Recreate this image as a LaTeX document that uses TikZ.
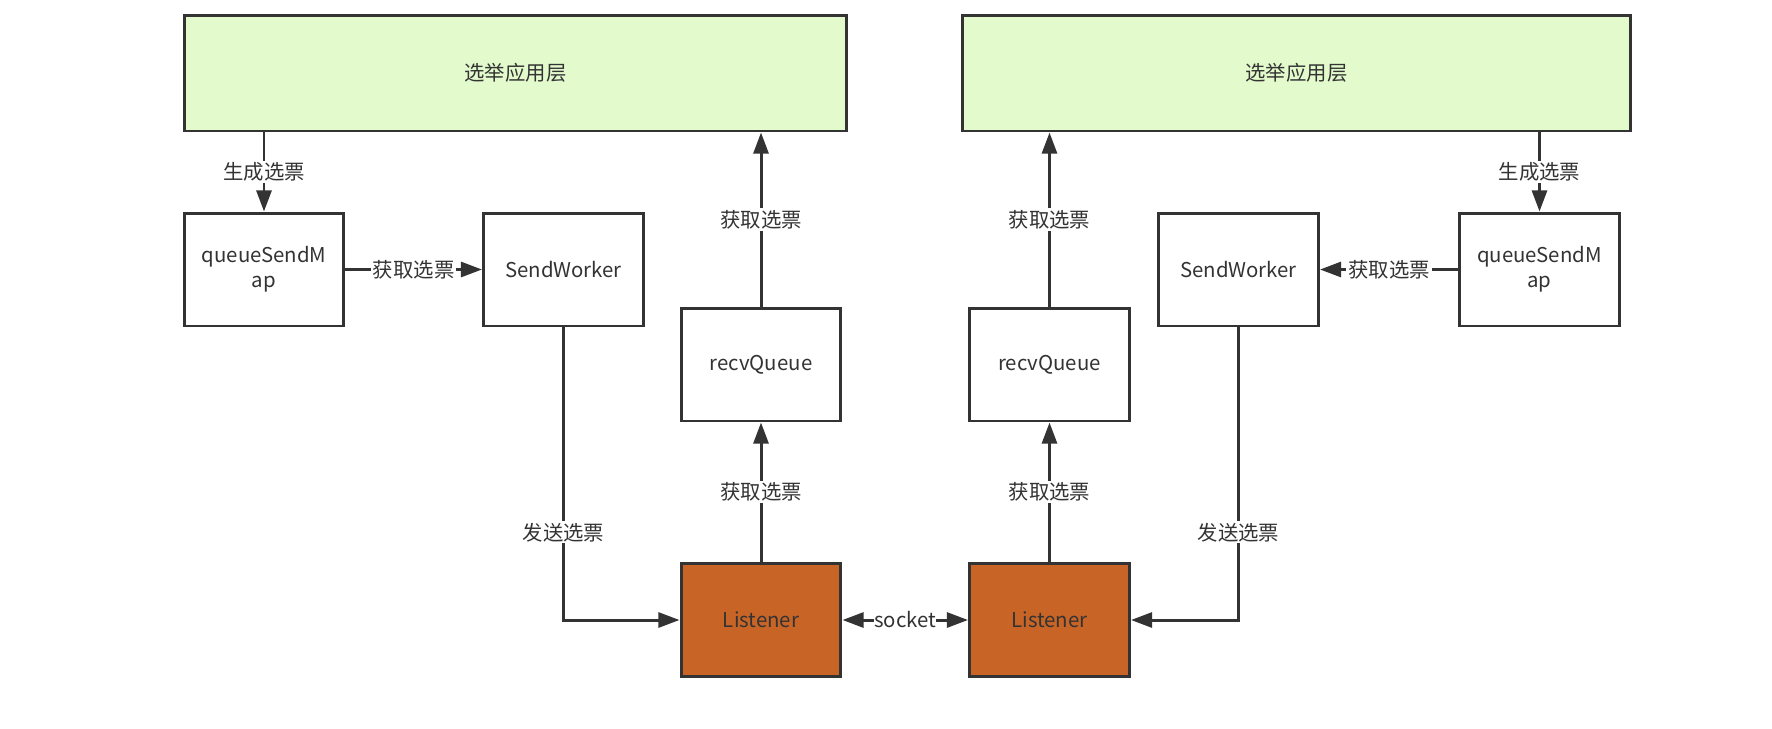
\documentclass[tikz,border=0pt]{standalone}
\usepackage{fontspec}
\setmainfont{Noto Sans CJK SC}
\usepackage{tikz}
\usetikzlibrary{arrows.meta}

\definecolor{appgreen}{RGB}{226,250,204}
\definecolor{lisorange}{RGB}{200,101,38}
\definecolor{edge}{RGB}{51,51,51}

\begin{document}
\begin{tikzpicture}[x=0.02cm, y=-0.02cm,
		every node/.style={font=\fontsize{11.6}{14}\selectfont, text=edge},
		box/.style={draw=edge, line width=1.7pt, fill=white, minimum width=3.2cm, minimum height=2.26cm, align=center, inner sep=0pt},
		appbox/.style={box, fill=appgreen, minimum height=2.32cm},
		lisbox/.style={box, fill=lisorange},
		arr/.style={draw=edge, line width=1.7pt, -{Triangle[length=12pt, width=8.5pt]}},
		lbl/.style={fill=white, inner sep=1pt}]
				\useasboundingbox (0,0) rectangle (1772,728);

				% application layer
				\node[appbox, minimum width=13.26cm] (appL) at (515.5,73) {选举应用层};
				\node[appbox, minimum width=13.38cm] (appR) at (1296.5,73) {选举应用层};

				% left side
				\node[box] (qsmL) at (264,269.5) {queueSendM\\ap};
				\node[box] (swL) at (563.5,269.5) {SendWorker};
				\node[box] (recvL) at (761,364.5) {recvQueue};
				\node[lisbox] (lisL) at (761,620) {Listener};

				% right side
				\node[lisbox] (lisR) at (1049.5,620) {Listener};
				\node[box] (recvR) at (1049.5,364.5) {recvQueue};
				\node[box] (swR) at (1238.5,269.5) {SendWorker};
				\node[box] (qsmR) at (1539.5,269.5) {queueSendM\\ap};

				\draw[arr] (appL.south -| qsmL) -- (qsmL.north) node[midway, lbl] {生成选票};
				\draw[arr] (qsmL.east) -- (swL.west) node[midway, lbl] {获取选票};
				\draw[arr] (swL.south) |- (lisL.west) node[pos=0.35, lbl] {发送选票};
				\draw[arr] (lisL.north) -- (recvL.south) node[midway, lbl] {获取选票};
				\draw[arr] (recvL.north) -- (recvL |- appL.south) node[midway, lbl] {获取选票};

				\draw[arr] (appR.south -| qsmR) -- (qsmR.north) node[midway, lbl] {生成选票};
				\draw[arr] (qsmR.west) -- (swR.east) node[midway, lbl] {获取选票};
				\draw[arr] (swR.south) |- (lisR.east) node[pos=0.35, lbl] {发送选票};
				\draw[arr] (lisR.north) -- (recvR.south) node[midway, lbl] {获取选票};
				\draw[arr] (recvR.north) -- (recvR |- appR.south) node[midway, lbl] {获取选票};

				\draw[arr, {Triangle[length=12pt, width=8.5pt]}-{Triangle[length=12pt, width=8.5pt]}] (lisL.east) -- (lisR.west) node[midway, lbl, inner sep=0pt] {socket};

			\end{tikzpicture}
\end{document}
